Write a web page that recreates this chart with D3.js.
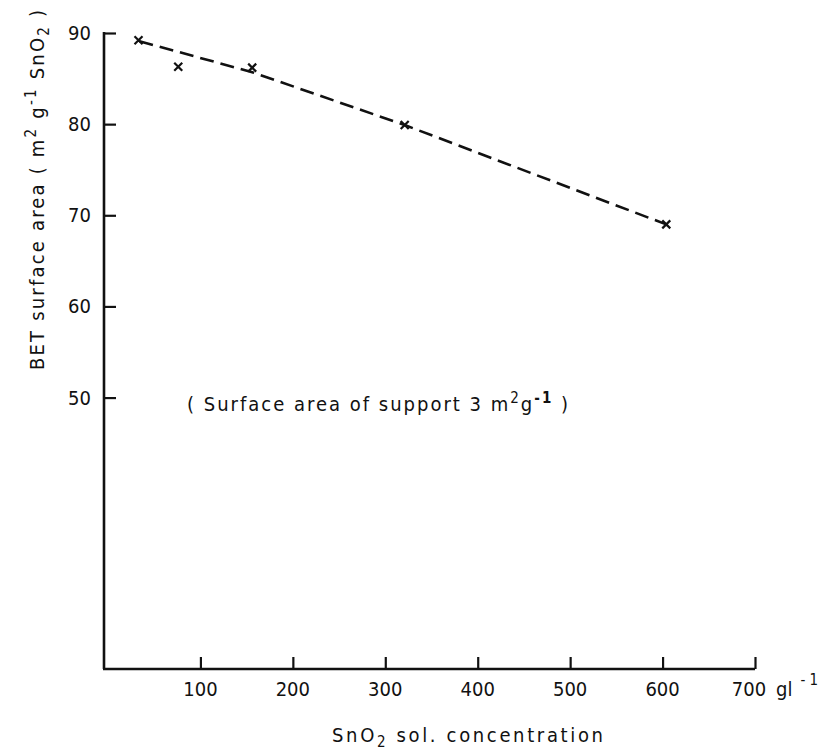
<!DOCTYPE html>
<html>
<head>
<meta charset="utf-8">
<script src="https://cdn.jsdelivr.net/npm/d3@7"></script>
<style>
  body { margin: 0; background: #fff; }
  text { font-family: "DejaVu Sans Condensed", "DejaVu Sans", sans-serif; fill: #111; }
</style>
</head>
<body>
<div class="graph"></div>
<script>
// measured points (SnO2 sol. concentration, BET surface area)
let concX = [33, 76, 156, 321, 604];
let areaY = [89.2, 86.3, 86.2, 79.9, 69.0];
// dashed trend line
let lineX = [34, 156, 321, 604];
let lineY = [89.1, 85.7, 79.9, 69.0];
let xTicks = [100, 200, 300, 400, 500, 600, 700];
let yTicks = [50, 60, 70, 80, 90];

let w = 831;
let h = 750;

let svg = d3
  .select(".graph")
  .append("svg")
  .attr("width", w)
  .attr("height", h);

let xScale = d3.scaleLinear().domain([0, 700]).range([108, 755]);
let yScale = d3.scaleLinear().domain([20, 90]).range([671, 33]);

let axisX = 104;
let axisY = 669;

// y axis, ticks inward
let yAxis = d3.axisRight(yScale).tickValues(yTicks).tickSize(12).tickFormat("");
let gy = svg.append("g").attr("transform", "translate(" + axisX + ",0)").call(yAxis);
gy.select(".domain").remove();
gy.selectAll("line").attr("stroke", "#111").attr("stroke-width", 2.2);
svg.append("line")
  .attr("x1", axisX).attr("x2", axisX)
  .attr("y1", yScale(90) - 1).attr("y2", axisY)
  .attr("stroke", "#111").attr("stroke-width", 2.6);
svg.selectAll(".ylab")
  .data(yTicks)
  .enter()
  .append("text")
  .attr("class", "ylab")
  .attr("x", 91)
  .attr("y", d => yScale(d) + 7)
  .attr("text-anchor", "end")
  .style("font-size", "20px")
  .text(d => d);

// x axis, ticks upward
let xAxis = d3.axisTop(xScale).tickValues(xTicks).tickSize(12).tickFormat("");
let gx = svg.append("g").attr("transform", "translate(0," + axisY + ")").call(xAxis);
gx.select(".domain").remove();
gx.selectAll("line").attr("stroke", "#111").attr("stroke-width", 2.2);
svg.append("line")
  .attr("x1", axisX - 1).attr("x2", xScale(700))
  .attr("y1", axisY).attr("y2", axisY)
  .attr("stroke", "#111").attr("stroke-width", 2.6);
svg.selectAll(".xlab")
  .data(xTicks)
  .enter()
  .append("text")
  .attr("class", "xlab")
  .attr("x", d => xScale(d) - (d === 700 ? 6 : 0))
  .attr("y", 696)
  .attr("text-anchor", "middle")
  .style("font-size", "20px")
  .text(d => d);

// unit after 700
let unit = svg.append("text").attr("x", 776).attr("y", 696).style("font-size", "20px");
unit.append("tspan").text("gl");
unit.append("tspan").attr("dx", 8).attr("dy", -11).style("font-size", "15px").text("- 1");

// axis titles
let xt = svg.append("text")
  .attr("x", 332).attr("y", 742)
  .attr("textLength", 271).attr("lengthAdjust", "spacing")
  .style("font-size", "20px");
xt.append("tspan").text("SnO");
xt.append("tspan").attr("dy", 5).style("font-size", "15px").text("2");
xt.append("tspan").attr("dy", -5).text(" sol.  concentration");

let yt = svg.append("text")
  .attr("transform", "translate(44,370) rotate(-90)")
  .attr("textLength", 360).attr("lengthAdjust", "spacing")
  .style("font-size", "20px");
yt.append("tspan").text("BET  surface  area  ( m");
yt.append("tspan").attr("dy", -8).style("font-size", "15px").text("2");
yt.append("tspan").attr("dy", 8).text(" g");
yt.append("tspan").attr("dy", -8).style("font-size", "15px").text("-1");
yt.append("tspan").attr("dy", 8).text(" SnO");
yt.append("tspan").attr("dy", 5).style("font-size", "15px").text("2");
yt.append("tspan").attr("dy", -5).text(" )");

// note
let note = svg.append("text")
  .attr("x", 187).attr("y", 411)
  .attr("textLength", 381).attr("lengthAdjust", "spacing")
  .style("font-size", "20px");
note.append("tspan").text("( Surface area of support  3 m");
note.append("tspan").attr("dy", -8).style("font-size", "15px").text("2");
note.append("tspan").attr("dy", 8).text("g");
note.append("tspan").attr("dy", -8).style("font-size", "15px").style("font-weight", "bold").text("-1");
note.append("tspan").attr("dy", 8).text(" )");

// dashed trend line
let line = d3.line()
  .x((d, i) => xScale(lineX[i]))
  .y((d, i) => yScale(lineY[i]));
svg.append("path")
  .datum(lineY)
  .attr("d", line)
  .attr("fill", "none")
  .attr("stroke", "#111")
  .attr("stroke-width", 2.6)
  .attr("stroke-dasharray", "14,7");

// x markers
let s = 4;
svg.selectAll(".mark")
  .data(areaY)
  .enter()
  .append("path")
  .attr("class", "mark")
  .attr("d", (d, i) => {
    let cx = xScale(concX[i]);
    let cy = yScale(d);
    return "M" + (cx - s) + "," + (cy - s) + "L" + (cx + s) + "," + (cy + s) +
      "M" + (cx - s) + "," + (cy + s) + "L" + (cx + s) + "," + (cy - s);
  })
  .attr("stroke", "#111")
  .attr("stroke-width", 2.2);
</script>
</body>
</html>
